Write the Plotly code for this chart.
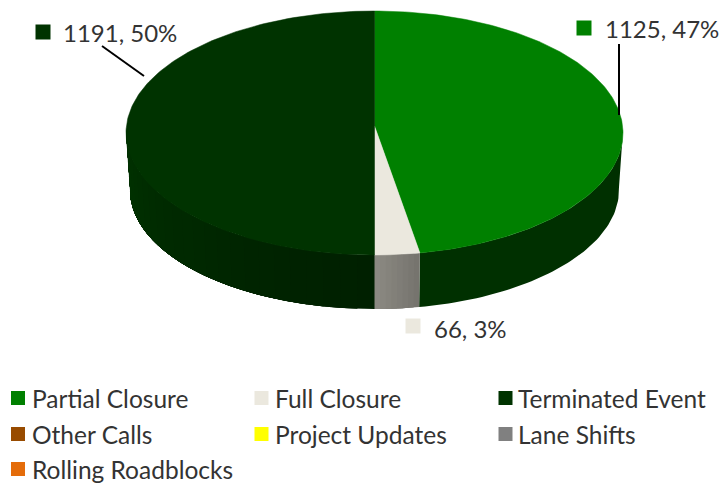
import math
import plotly.graph_objects as go

# ---- data ----
categories = ["Partial Closure", "Full Closure", "Terminated Event", "Other Calls",
              "Project Updates", "Lane Shifts", "Rolling Roadblocks"]
values = [1125, 66, 1191, 0, 0, 0, 0]
colors = ["#008000", "#EBE8DE", "#003300", "#984B00", "#FFFF00", "#808080", "#E46C0A"]

# ---- layout constants ----
W, H = 719, 483
CX, CY, RX, RY = 374.5, 133, 248.5, 122
BCY, BRX, BRY = 190, 244.5, 119
APEX_Y = 126
PERSP = 0.028
FONT = "Lato"
TEXT = "#333333"
label_pos = {0: (603, 28, 584, 28), 1: (431.5, 328, 413, 326), 2: (61, 32, 43, 32)}
leaders = {0: ((619, 44), (619, 115)), 2: ((102, 46), (144, 76))}
key_x = [18, 261.5, 505.5, 18, 261.5, 505.5, 18]
key_text_x = [30, 273, 516, 30, 273, 516, 30]
key_y = [398, 398, 398, 434, 434, 434, 469]

total = sum(values)
fig = go.Figure()


def warp(phi):
    return phi + PERSP * math.sin(2 * phi)


def top(phi):
    q = warp(phi)
    return CX + RX * math.sin(q), CY - RY * math.cos(q)


def bottom(phi):
    q = warp(phi)
    return CX + BRX * math.sin(q), BCY - BRY * math.cos(q)


def mix(c1, c2, t):
    a = [int(c1[i:i + 2], 16) for i in (1, 3, 5)]
    b = [int(c2[i:i + 2], 16) for i in (1, 3, 5)]
    return "rgb(%d,%d,%d)" % tuple(round(p + (q - p) * t) for p, q in zip(a, b))


def strip_color(i, t):
    if i == 0:
        return "#003000"
    if i == 1:
        return mix("#75736D", "#8C8A83", t)
    return mix("#002000", "#003400", t ** 1.3)


spans = []
start = 0.0
for v in values:
    spans.append((start / total * 2 * math.pi, (start + v) / total * 2 * math.pi))
    start += v

# walls: each strip runs on to the slice's far end, later strips paint over earlier ones
for i, (a0, a1) in enumerate(spans[:3]):
    lo = max(a0, math.pi / 2 - 0.02)
    hi = min(a1, 3 * math.pi / 2 + 0.02)
    if hi <= lo:
        continue
    n = 1 if i == 0 else (8 if i == 1 else 24)
    for k in range(n):
        p0 = lo + (hi - lo) * k / n
        m = 60
        ps = [p0 + (hi - p0) * j / m for j in range(m + 1)]
        xs = [top(p)[0] for p in ps] + [bottom(p)[0] for p in reversed(ps)]
        ys = [top(p)[1] for p in ps] + [bottom(p)[1] for p in reversed(ps)]
        c = strip_color(i, (k + 0.5) / n)
        fig.add_trace(go.Scatter(x=xs, y=ys, mode="lines", fill="toself", fillcolor=c,
                                 line=dict(color=c, width=0), hoverinfo="skip", showlegend=False))

# top face
for i, (a0, a1) in enumerate(spans[:3]):
    n = 180
    ps = [a0 + (a1 - a0) * j / n for j in range(n + 1)]
    xs = [CX] + [top(p)[0] for p in ps] + [CX]
    ys = [APEX_Y] + [top(p)[1] for p in ps] + [APEX_Y]
    fig.add_trace(go.Scatter(x=xs, y=ys, mode="lines", fill="toself", fillcolor=colors[i],
                             line=dict(color=colors[i], width=0.5), name=categories[i],
                             hovertemplate="%{fullData.name}<extra></extra>", showlegend=False))

# data labels with keys and leader lines
annotations = []
for i, v in enumerate(values):
    if v == 0:
        continue
    tx, ty, kx, ky = label_pos[i]
    fig.add_trace(go.Scatter(x=[kx], y=[ky], mode="markers", hoverinfo="skip", showlegend=False,
                             marker=dict(symbol="square", size=15, color=colors[i])))
    annotations.append(dict(x=tx, y=ty, xref="x", yref="y", xanchor="left", yanchor="middle",
                            showarrow=False, text=f"{v}, {round(v / total * 100)}%",
                            font=dict(family=FONT, size=24, color=TEXT)))
    if i in leaders:
        (x0, y0), (x1, y1) = leaders[i]
        fig.add_trace(go.Scatter(x=[x0, x1], y=[y0, y1], mode="lines", hoverinfo="skip",
                                 showlegend=False, line=dict(color="#000000", width=2)))

# key: one square marker and one text per category
for k, (c, col) in enumerate(zip(categories, colors)):
    fig.add_trace(go.Scatter(x=[key_x[k]], y=[key_y[k]], mode="markers", name=c, showlegend=False,
                             hovertemplate="%{fullData.name}<extra></extra>",
                             marker=dict(symbol="square", size=14, color=col)))
    annotations.append(dict(x=key_text_x[k], y=key_y[k], xref="x", yref="y", xanchor="left",
                            yanchor="middle", showarrow=False, text=c,
                            font=dict(family=FONT, size=24.5, color=TEXT)))

fig.update_layout(
    width=W, height=H, margin=dict(l=0, r=0, t=0, b=0, autoexpand=False),
    paper_bgcolor="white", plot_bgcolor="white",
    xaxis=dict(range=[0, W], visible=False, fixedrange=True),
    yaxis=dict(range=[H, 0], visible=False, fixedrange=True),
    annotations=annotations,
    showlegend=False,
)
fig.write_html("out.html", config={"displayModeBar": False},
               post_script="document.body.style.margin='0';document.body.style.overflow='hidden';")
